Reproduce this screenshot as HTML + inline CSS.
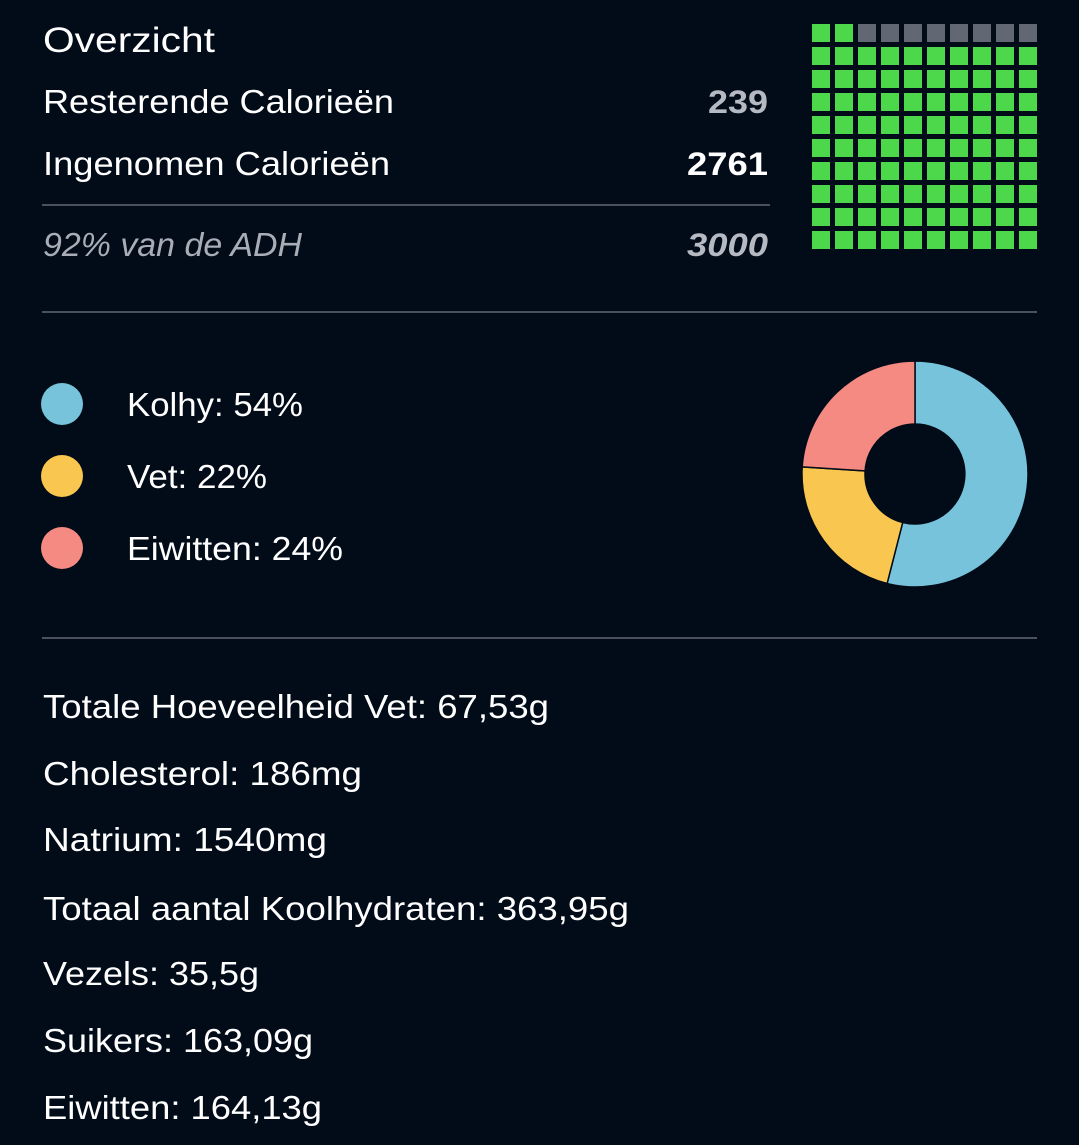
<!DOCTYPE html>
<html><head><meta charset="utf-8"><style>
html,body{margin:0;padding:0;background:#020b18;}
svg{display:block}
text{font-family:"Liberation Sans",sans-serif;fill:#fff;}
</style></head><body>
<svg width="1079" height="1145" viewBox="0 0 1079 1145">
<rect width="1079" height="1145" fill="#020b18"/>
<text x="43" y="52" font-size="35" textLength="172" lengthAdjust="spacingAndGlyphs">Overzicht</text>
<text x="708" y="113" font-size="32" font-weight="bold" style="fill:#b5b9c2" textLength="60" lengthAdjust="spacingAndGlyphs">239</text>
<text x="43" y="113" font-size="33" textLength="351" lengthAdjust="spacingAndGlyphs">Resterende Calorieën</text>
<text x="43" y="175" font-size="33" textLength="347" lengthAdjust="spacingAndGlyphs">Ingenomen Calorieën</text>
<text x="687" y="175" font-size="32" font-weight="bold" textLength="81" lengthAdjust="spacingAndGlyphs">2761</text>
<rect x="42" y="204" width="728" height="2" fill="#4a5060"/>
<text x="43" y="256" font-size="33" font-style="italic" style="fill:#a8adb6" textLength="259" lengthAdjust="spacingAndGlyphs">92% van de ADH</text>
<text x="687" y="256" font-size="32" font-weight="bold" font-style="italic" style="fill:#b5b9c2" textLength="81" lengthAdjust="spacingAndGlyphs">3000</text>
<rect x="42" y="311" width="995" height="2" fill="#4a5060"/>
<circle cx="62" cy="404" r="21" fill="#76c3db"/>
<circle cx="62" cy="476" r="21" fill="#f9c74f"/>
<circle cx="62" cy="548" r="21" fill="#f48a82"/>
<text x="127" y="416" font-size="33" textLength="176" lengthAdjust="spacingAndGlyphs">Kolhy: 54%</text>
<text x="127" y="488" font-size="33" textLength="140" lengthAdjust="spacingAndGlyphs">Vet: 22%</text>
<text x="127" y="560" font-size="33" textLength="216" lengthAdjust="spacingAndGlyphs">Eiwitten: 24%</text>
<g stroke="#020b18" stroke-width="1.5">
<path d="M915,361 A113,113 0 1,1 887.1,583.5 L902.7,522.5 A50,50 0 1,0 915,424 Z" fill="#76c3db"/>
<path d="M887.1,583.5 A113,113 0 0,1 802.2,466.9 L865.1,470.9 A50,50 0 0,0 902.7,522.5 Z" fill="#f9c74f"/>
<path d="M802.2,466.9 A113,113 0 0,1 915,361 L915,424 A50,50 0 0,0 865.1,470.9 Z" fill="#f48a82"/>
</g>
<rect x="42" y="637" width="995" height="2" fill="#4a5060"/>
<g font-size="33">
<text x="43" y="718" textLength="506" lengthAdjust="spacingAndGlyphs">Totale Hoeveelheid Vet: 67,53g</text>
<text x="43" y="785" textLength="319" lengthAdjust="spacingAndGlyphs">Cholesterol: 186mg</text>
<text x="43" y="851" textLength="284" lengthAdjust="spacingAndGlyphs">Natrium: 1540mg</text>
<text x="43" y="920" textLength="586" lengthAdjust="spacingAndGlyphs">Totaal aantal Koolhydraten: 363,95g</text>
<text x="43" y="985" textLength="216" lengthAdjust="spacingAndGlyphs">Vezels: 35,5g</text>
<text x="43" y="1052" textLength="270" lengthAdjust="spacingAndGlyphs">Suikers: 163,09g</text>
<text x="43" y="1119" textLength="279" lengthAdjust="spacingAndGlyphs">Eiwitten: 164,13g</text>
</g>
<g>
<rect x="812" y="24" width="18" height="18" fill="#4cd84a"/><rect x="835" y="24" width="18" height="18" fill="#4cd84a"/>
<rect x="858" y="24" width="18" height="18" fill="#616773"/><rect x="881" y="24" width="18" height="18" fill="#616773"/><rect x="904" y="24" width="18" height="18" fill="#616773"/><rect x="927" y="24" width="18" height="18" fill="#616773"/><rect x="950" y="24" width="18" height="18" fill="#616773"/><rect x="973" y="24" width="18" height="18" fill="#616773"/><rect x="996" y="24" width="18" height="18" fill="#616773"/><rect x="1019" y="24" width="18" height="18" fill="#616773"/>
</g>
<defs><pattern id="wp" x="812" y="47" width="23" height="23" patternUnits="userSpaceOnUse"><rect width="18" height="18" fill="#4cd84a"/></pattern></defs>
<rect x="812" y="47" width="228" height="204" fill="url(#wp)"/>
</svg>
</body></html>
